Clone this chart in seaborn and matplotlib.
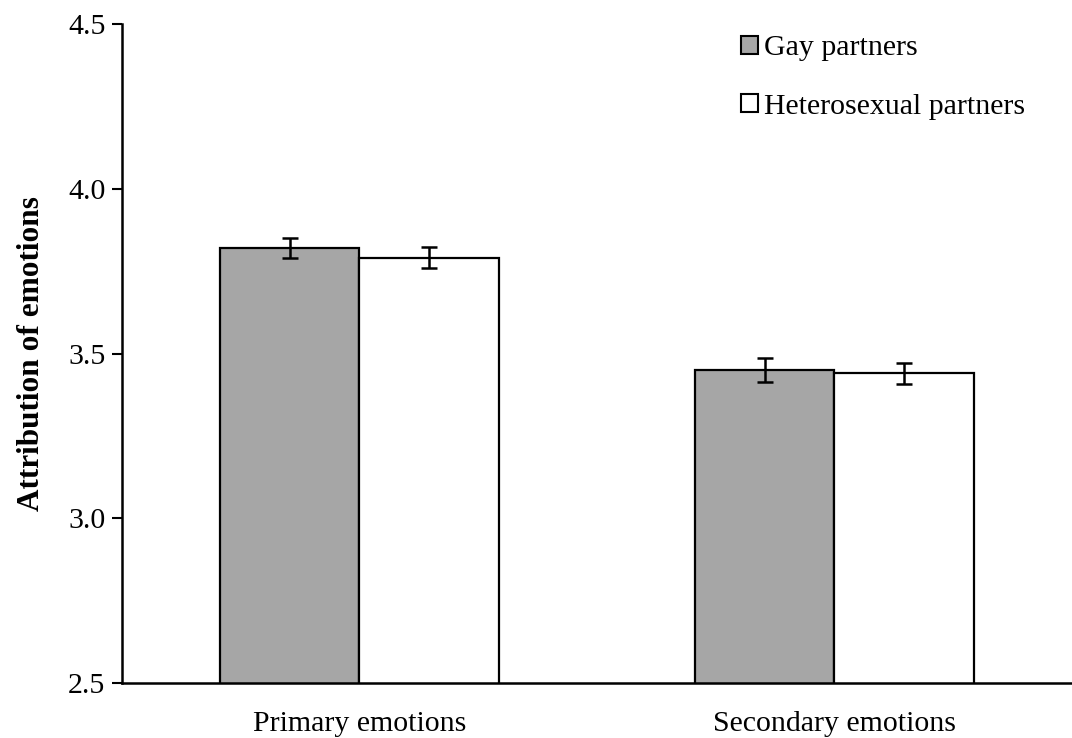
import matplotlib
matplotlib.use("Agg")
import matplotlib.pyplot as plt
import seaborn as sns
import pandas as pd
from matplotlib.patches import Patch
from matplotlib.ticker import FormatStrFormatter

categories = ["Primary emotions", "Secondary emotions"]
groups = ["Gay partners", "Heterosexual partners"]
gay_means = [3.82, 3.45]
hetero_means = [3.79, 3.44]
gay_err = [0.03, 0.035]
hetero_err = [0.032, 0.032]
colors = ["#a6a6a6", "#ffffff"]

sns.set_theme(style="white")
plt.rcParams["font.family"] = ["Liberation Serif", "DejaVu Serif"]
plt.rcParams["text.color"] = "black"

df = pd.DataFrame({
    "category": categories * 2,
    "group": [groups[0]] * 2 + [groups[1]] * 2,
    "value": gay_means + hetero_means,
    "err": gay_err + hetero_err,
})

fig = plt.figure(figsize=(10.72, 7.38), dpi=100)
ax = fig.add_axes([0.1138, 0.0745, 0.8862, 0.893])

sns.barplot(data=df, x="category", y="value", hue="group", palette=colors,
            errorbar=None, width=0.586, edgecolor="black", linewidth=1.6,
            ax=ax, legend=False, order=categories, hue_order=groups)

# error bars at the centre of each bar
for patch_group, (vals, errs) in zip(
        [ax.patches[:2], ax.patches[2:4]],
        [(gay_means, gay_err), (hetero_means, hetero_err)]):
    xs = [p.get_x() + p.get_width() / 2 for p in patch_group]
    ax.errorbar(xs, vals, yerr=errs, fmt="none", ecolor="black",
                elinewidth=1.8, capsize=5.5, capthick=1.8, zorder=5)

ax.set_ylim(2.5, 4.5)
ax.set_xlim(-0.5, 1.5)
ax.set_yticks([2.5, 3.0, 3.5, 4.0, 4.5])
ax.yaxis.set_major_formatter(FormatStrFormatter("%.1f"))
ax.tick_params(axis="y", which="major", direction="out", length=7, width=1.5,
               labelsize=21.5, left=True, pad=5, colors="black")
ax.tick_params(axis="x", length=0, labelsize=21.5, pad=20, colors="black")
ax.set_xlabel("")
ax.set_ylabel("Attribution of emotions", fontsize=22.5, fontweight="bold",
              labelpad=16, color="black")

for s in ["top", "right"]:
    ax.spines[s].set_visible(False)
for s in ["left", "bottom"]:
    ax.spines[s].set_color("black")
    ax.spines[s].set_linewidth(1.8)

handles = [Patch(facecolor=c, edgecolor="black", linewidth=1.5, label=g)
           for c, g in zip(colors, groups)]
ax.legend(handles=handles, loc="upper left", bbox_to_anchor=(0.652, 0.983),
          frameon=False, fontsize=21.5, handlelength=0.55, handleheight=0.55,
          handletextpad=0.2, labelspacing=1.09, borderpad=0, borderaxespad=0,
          labelcolor="black")

fig.savefig("out.png", dpi=100, facecolor="white")
